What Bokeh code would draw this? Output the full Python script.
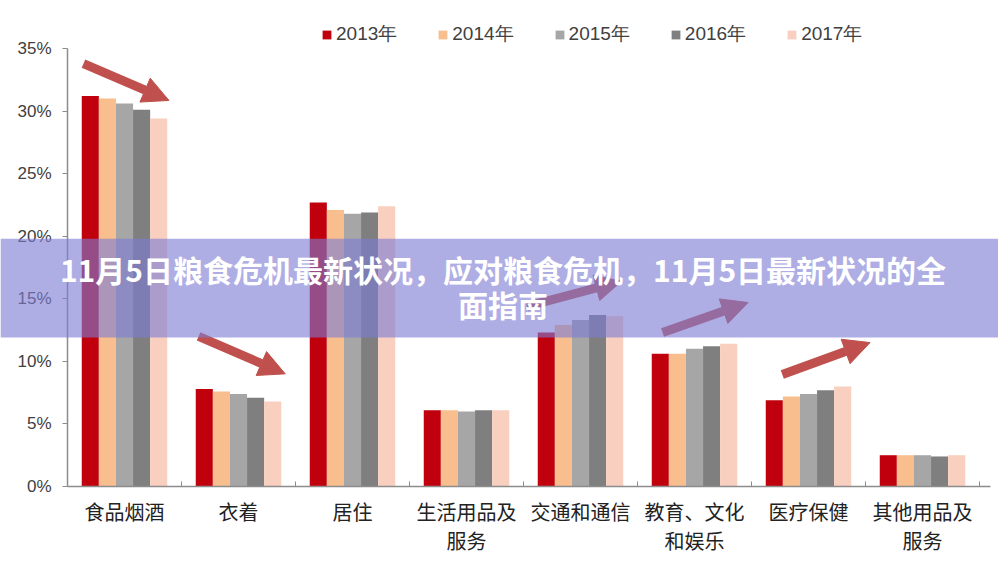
from bokeh.plotting import figure
from bokeh.models import (ColumnDataSource, FixedTicker, PrintfTickFormatter, Legend, LegendItem,
                          BoxAnnotation, Label, Arrow, NormalHead, Range1d)
from bokeh.transform import dodge
from bokeh.embed import file_html
from bokeh.resources import INLINE

categories = ["食品烟酒", "衣着", "居住", "生活用品及\n服务", "交通和通信",
              "教育、文化\n和娱乐", "医疗保健", "其他用品及\n服务"]
years = ["2013年", "2014年", "2015年", "2016年", "2017年"]
v2013 = [31.2, 7.8, 22.7, 6.1, 12.3, 10.6, 6.9, 2.5]
v2014 = [31.0, 7.6, 22.1, 6.1, 12.9, 10.6, 7.2, 2.5]
v2015 = [30.6, 7.4, 21.8, 6.0, 13.3, 11.0, 7.4, 2.5]
v2016 = [30.1, 7.1, 21.9, 6.1, 13.7, 11.2, 7.7, 2.4]
v2017 = [29.4, 6.8, 22.4, 6.1, 13.6, 11.4, 8.0, 2.5]
y_ticks = [0, 5, 10, 15, 20, 25, 30, 35]
title_lines = ["11月5日粮食危机最新状况，应对粮食危机，11月5日最新状况的全", "面指南"]
# decorative trend arrows: (x_start, y_start, x_end, y_end) in data units
arrows = [(0.14, 33.8, 0.89, 30.85), (1.15, 12.0, 1.91, 9.0), (4.03, 14.4, 4.86, 16.4),
          (5.22, 12.3, 5.97, 14.7), (6.27, 8.95, 7.04, 11.5)]

colors = ["#C0000C", "#F8BE8E", "#A6A6A6", "#7F7F7F", "#F9CFBF"]
series = [v2013, v2014, v2015, v2016, v2017]

centers = [i + 0.5 for i in range(len(categories))]
data = {"x": centers}
for k, s in enumerate(series):
    data["s%d" % k] = s
src = ColumnDataSource(data)

W, H = 998, 577
px_per_cat = 114.0
px_per_pct = 12.514
x0_px, y0_px = 67.0, 486.0

p = figure(width=W, height=H, output_backend="svg", toolbar_location=None,
           x_range=Range1d(-x0_px / px_per_cat, (W - x0_px) / px_per_cat),
           y_range=Range1d(-(H - y0_px) / px_per_pct, y0_px / px_per_pct),
           min_border=0, min_border_left=0, min_border_right=0,
           min_border_top=0, min_border_bottom=0)
p.title.visible = False
p.outline_line_color = None
p.xgrid.visible = False
p.ygrid.visible = False

offsets = [-0.3, -0.15, 0.0, 0.15, 0.3]
renderers = []
for k in range(5):
    r = p.vbar(x=dodge("x", offsets[k]), top="s%d" % k, width=0.15, bottom=0,
               source=src, fill_color=colors[k], line_color=None)
    renderers.append(r)

# axes (fixed inside the full-canvas frame)
xa = p.xaxis[0]
xa.fixed_location = 0
xa.bounds = (0, 8.1)
xa.ticker = FixedTicker(ticks=centers, minor_ticks=list(range(len(categories) + 1)))
xa.major_label_overrides = {c: lab for c, lab in zip(centers, categories)}
xa.major_tick_in = 0
xa.major_tick_out = 0
xa.minor_tick_in = 5
xa.minor_tick_out = 0
xa.minor_tick_line_color = "#8c8c8c"
xa.axis_line_color = "#8c8c8c"
xa.axis_line_width = 1.5
xa.major_label_text_font = "Noto Sans CJK SC"
xa.major_label_text_font_size = "20px"
xa.major_label_text_color = "#222222"
xa.major_label_text_line_height = 1.0
xa.major_label_standoff = 10

ya = p.yaxis[0]
ya.fixed_location = 0
ya.bounds = (0, 35)
ya.ticker = FixedTicker(ticks=y_ticks)
ya.formatter = PrintfTickFormatter(format="%d%%")
ya.minor_tick_line_color = None
ya.major_tick_in = 0
ya.major_tick_out = 5
ya.major_tick_line_color = "#8c8c8c"
ya.axis_line_color = "#8c8c8c"
ya.axis_line_width = 1.5
ya.major_label_text_font = "Liberation Sans"
ya.major_label_text_font_size = "17px"
ya.major_label_text_color = "#404040"
ya.major_label_standoff = 11

# legend
legend = Legend(items=[LegendItem(label=y, renderers=[r]) for y, r in zip(years, renderers)],
                orientation="horizontal", location=(321, H - 47),
                label_text_font="Liberation Sans", label_text_font_size="19px",
                label_text_color="#404040", glyph_width=11, glyph_height=11,
                label_standoff=4, spacing=40, padding=0, margin=0,
                border_line_alpha=0, background_fill_alpha=0)
p.add_layout(legend)

# arrows
for (xs, ys, xe, ye) in arrows:
    p.add_layout(Arrow(x_start=xs, y_start=ys, x_end=xe, y_end=ye, line_width=9,
                       line_color="#C0504D",
                       end=NormalHead(size=26, fill_color="#C0504D", line_color="#C0504D")))

# banner
p.add_layout(BoxAnnotation(bottom=11.9, top=19.8,
                           fill_color=(124, 124, 211), fill_alpha=0.62,
                           line_alpha=0, level="overlay"))
for txt, yy in zip(title_lines, [17.4, 14.6]):
    p.add_layout(Label(x=3.82, y=yy, text=txt, text_align="center", text_baseline="middle",
                       text_font="Noto Sans CJK SC", text_font_style="bold",
                       text_font_size="30px", text_color="white", level="overlay"))

open("out.html", "w").write(file_html(p, INLINE))
